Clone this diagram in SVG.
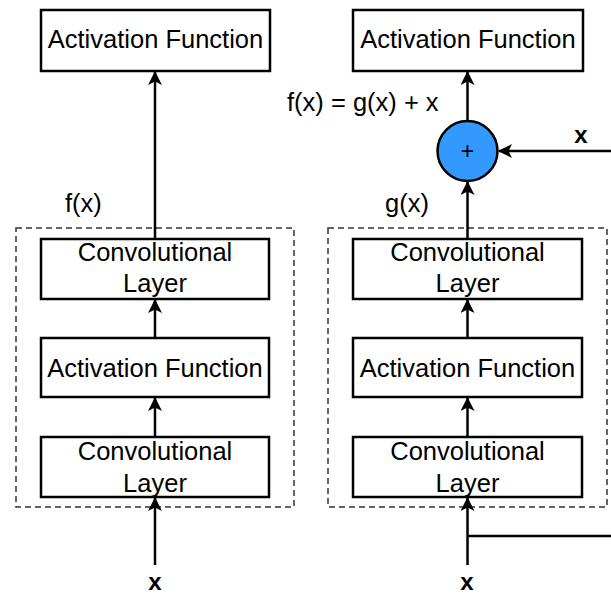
<svg xmlns="http://www.w3.org/2000/svg" width="611" height="594" viewBox="0 0 611 594">
<defs>
<marker id="arr" viewBox="0 0 14 14" refX="13" refY="7" markerWidth="14" markerHeight="14" markerUnits="userSpaceOnUse" orient="auto">
<path d="M0,0 L14,7 L0,14 L3.5,7 Z" fill="#000"/>
</marker>
<style>
.box{fill:#fff;stroke:#000;stroke-width:2.5}
.grp{fill:none;stroke:#333;stroke-width:1.5;stroke-dasharray:6 4}
.t{font-family:"Liberation Sans",Arial,sans-serif;font-size:25.5px;fill:#000}
.c{text-anchor:middle}
.bx{font-family:"Liberation Sans",Arial,sans-serif;font-size:24px;font-weight:bold;fill:#000;text-anchor:middle}
.e{fill:none;stroke:#000;stroke-width:2.5}
</style>
</defs>
<rect width="611" height="594" fill="#fff"/>
<g id="group-left"><rect class="grp" x="16" y="228" width="278" height="279"/></g>
<g id="group-right"><rect class="grp" x="328" y="228" width="279" height="279"/></g>
<g id="connectors">
<line class="e" x1="155" y1="239" x2="155" y2="72" marker-end="url(#arr)"/>
<line class="e" x1="155" y1="338" x2="155" y2="300" marker-end="url(#arr)"/>
<line class="e" x1="155" y1="437" x2="155" y2="398" marker-end="url(#arr)"/>
<line class="e" x1="155" y1="565" x2="155" y2="498" marker-end="url(#arr)"/>
<line class="e" x1="467.5" y1="121" x2="467.5" y2="72" marker-end="url(#arr)"/>
<line class="e" x1="467.5" y1="239" x2="467.5" y2="182" marker-end="url(#arr)"/>
<line class="e" x1="467.5" y1="338" x2="467.5" y2="300" marker-end="url(#arr)"/>
<line class="e" x1="467.5" y1="437" x2="467.5" y2="398" marker-end="url(#arr)"/>
<line class="e" x1="467.5" y1="565" x2="467.5" y2="498" marker-end="url(#arr)"/>
<polyline class="e" points="467.5,536 612,536"/>
<line class="e" x1="612" y1="151" x2="499" y2="151" marker-end="url(#arr)"/>
</g>
<g id="left-act-top"><rect class="box" x="41" y="10" width="229" height="61"/><text class="t c" x="155.5" y="48">Activation Function</text></g>
<g id="left-conv2"><rect class="box" x="41" y="239" width="228" height="60"/><text class="t c" x="155" y="261">Convolutional</text><text class="t c" x="155" y="292">Layer</text></g>
<g id="left-act"><rect class="box" x="41" y="338" width="228" height="59"/><text class="t c" x="155" y="377">Activation Function</text></g>
<g id="left-conv1"><rect class="box" x="41" y="437" width="228" height="60"/><text class="t c" x="155" y="460">Convolutional</text><text class="t c" x="155" y="492">Layer</text></g>
<g id="right-act-top"><rect class="box" x="353" y="10" width="230" height="61"/><text class="t c" x="468" y="48">Activation Function</text></g>
<g id="right-conv2"><rect class="box" x="353" y="239" width="229" height="60"/><text class="t c" x="467.5" y="261">Convolutional</text><text class="t c" x="467.5" y="292">Layer</text></g>
<g id="right-act"><rect class="box" x="353" y="338" width="229" height="59"/><text class="t c" x="467.5" y="377">Activation Function</text></g>
<g id="right-conv1"><rect class="box" x="353" y="437" width="229" height="60"/><text class="t c" x="467.5" y="460">Convolutional</text><text class="t c" x="467.5" y="492">Layer</text></g>
<g id="sum"><circle cx="467.5" cy="151" r="30" fill="#3399ff" stroke="#000" stroke-width="2.5"/><text x="467.5" y="159" font-family="Liberation Sans, Arial, sans-serif" font-size="23" text-anchor="middle">+</text></g>
<g id="labels">
<text class="t" x="65" y="212">f(x)</text>
<text class="t" x="385" y="212">g(x)</text>
<text class="t" x="287" y="111">f(x) = g(x) + x</text>
<text class="bx" x="581" y="143">x</text>
<text class="bx" x="155" y="590">x</text>
<text class="bx" x="467" y="590">x</text>
</g>
</svg>
